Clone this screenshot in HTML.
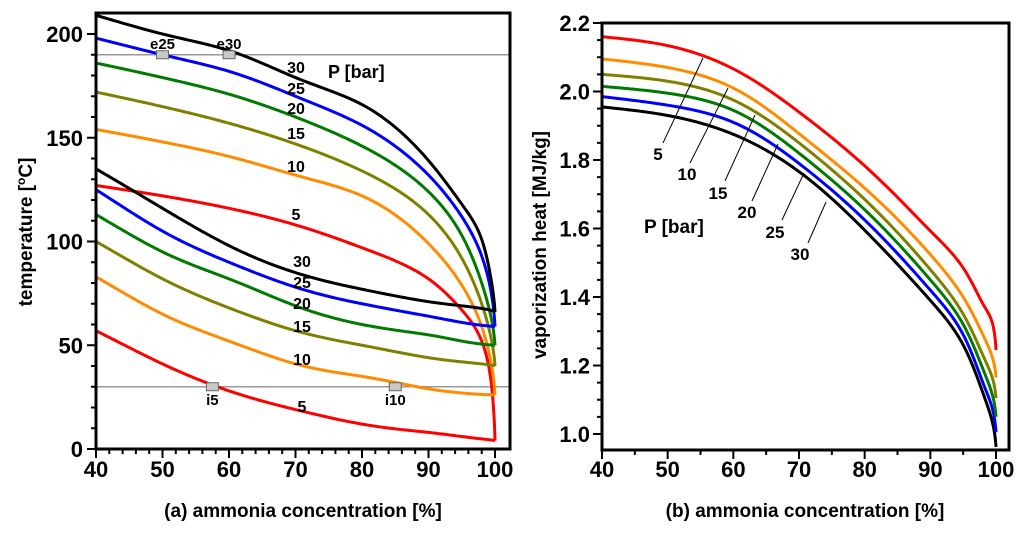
<!DOCTYPE html>
<html><head><meta charset="utf-8">
<style>
html,body{margin:0;padding:0;background:#fff;}
svg{display:block;font-family:"Liberation Sans",Arial,sans-serif;font-weight:bold;}
</style></head>
<body>
<svg id="chart" width="1024" height="533" viewBox="0 0 1024 533" xmlns="http://www.w3.org/2000/svg"></svg>
<script>
// ---- Data: panel (a) temperature vs ammonia concentration ----
const pressures = [30, 25, 20, 15, 10, 5];
const colors = ["#000000", "#0000ff", "#007a00", "#808000", "#ff8c00", "#ff0000"];
const dewX = [40, 50, 60, 70, 80, 90, 95, 98, 99.5, 100];
const dew30 = [209, 200, 192, 179, 166, 139, 118, 101, 80, 66];
const dew25 = [198, 190, 182, 170, 156, 132, 112, 93, 74, 59];
const dew20 = [186, 179, 171, 160, 146, 124, 103, 80, 62, 50];
const dew15 = [172, 165, 157, 147, 134, 113, 92, 70, 52, 40];
const dew10 = [154, 148, 141, 132, 122, 99, 79, 59, 40, 26];
const dew5 = [127, 122, 116, 108, 97, 82, 67, 52, 30, 4];
const bubX = [40, 50, 60, 70, 80, 90, 95, 100];
const bub30 = [135, 116, 98, 85, 77, 71, 69, 66];
const bub25 = [125, 105, 90, 78, 70, 64, 61, 59];
const bub20 = [113, 95, 82, 69, 60, 55, 52, 50];
const bub15 = [100, 82, 68, 57, 50, 44, 42, 40];
const bub10 = [83, 65, 52, 41, 35, 29, 27, 26];
const bub5 = [57, 41, 28, 19, 12, 8, 6, 4];
const aXTicks = [40, 50, 60, 70, 80, 90, 100];
const aYTicks = [0, 50, 100, 150, 200];
const refTemps = [190, 30];
const pointNames = ["e25", "e30", "i5", "i10"];
const pointX = [50, 60, 57.5, 85];
const pointT = [190, 190, 30, 30];
// ---- Data: panel (b) vaporization heat ----
const hX = [40, 50, 60, 70, 80, 90, 95, 98, 99.5, 100];
const heat5 = [2.16, 2.134, 2.066, 1.94, 1.783, 1.593, 1.485, 1.38, 1.32, 1.245];
const heat10 = [2.095, 2.07, 2.01, 1.877, 1.718, 1.524, 1.40, 1.29, 1.22, 1.165];
const heat15 = [2.05, 2.03, 1.975, 1.85, 1.685, 1.48, 1.35, 1.23, 1.16, 1.105];
const heat20 = [2.015, 1.995, 1.945, 1.82, 1.655, 1.45, 1.32, 1.19, 1.11, 1.05];
const heat25 = [1.985, 1.96, 1.91, 1.79, 1.625, 1.42, 1.29, 1.15, 1.07, 1.005];
const heat30 = [1.955, 1.93, 1.875, 1.766, 1.595, 1.39, 1.26, 1.12, 1.03, 0.962];
const bXTicks = [40, 50, 60, 70, 80, 90, 100];
const bYTicks = [1.0, 1.2, 1.4, 1.6, 1.8, 2.0, 2.2];

const NS = "http://www.w3.org/2000/svg";
const svg = document.getElementById("chart");
function mk(tag, attrs, parent) {
  const e = document.createElementNS(NS, tag);
  for (const k in attrs) e.setAttribute(k, attrs[k]);
  (parent || svg).appendChild(e);
  return e;
}
const ax = v => 96 + (v - 40) * 6.65;
const ay = t => 449 - t * 2.075;
const bx = v => 602 + (v - 40) * 6.567;
const by = v => 23 + (2.2 - v) * 342.5;

// natural cubic spline in u = sqrt(100.05 - x), mapped back to x
const toU = x => Math.sqrt(100.05 - x);
function smoothPath(xs, ys, fx, fy) {
  const U = xs.map(toU).reverse(), Y = ys.slice().reverse();
  const n = U.length, h = [], al = [0], l = [1], mu = [0], z = [0], c = new Array(n).fill(0), b = [], d = [];
  for (let i = 0; i < n - 1; i++) h.push(U[i + 1] - U[i]);
  for (let i = 1; i < n - 1; i++) al.push(3 / h[i] * (Y[i + 1] - Y[i]) - 3 / h[i - 1] * (Y[i] - Y[i - 1]));
  for (let i = 1; i < n - 1; i++) {
    l.push(2 * (U[i + 1] - U[i - 1]) - h[i - 1] * mu[i - 1]);
    mu.push(h[i] / l[i]);
    z.push((al[i] - h[i - 1] * z[i - 1]) / l[i]);
  }
  for (let j = n - 2; j >= 0; j--) {
    c[j] = (j === 0 ? 0 : z[j] - mu[j] * c[j + 1]);
    b[j] = (Y[j + 1] - Y[j]) / h[j] - h[j] * (c[j + 1] + 2 * c[j]) / 3;
    d[j] = (c[j + 1] - c[j]) / (3 * h[j]);
  }
  let p = "";
  for (let j = 0; j < n - 1; j++) {
    for (let k = (j === 0 ? 0 : 1); k <= 30; k++) {
      const uu = U[j] + h[j] * k / 30, du = uu - U[j];
      const y = Y[j] + b[j] * du + c[j] * du * du + d[j] * du * du * du;
      const x = 100.05 - uu * uu;
      p += (p ? "L" : "M") + fx(x).toFixed(2) + "," + fy(y).toFixed(2);
    }
  }
  return p;
}
function text(x, y, s, size, anchor, parent) {
  const t = mk("text", {x: x, y: y, "font-size": size, "text-anchor": anchor || "middle", fill: "#000"}, parent);
  t.textContent = s;
  return t;
}

// ================= Panel (a) =================
const ga = mk("g", {});


refTemps.forEach(T => {
  const l = mk("line", {x1: ax(40), x2: 510, y1: ay(T), y2: ay(T), stroke: "#999", "stroke-width": 1.5}, ga);
  
  
});
const dews = [dew30, dew25, dew20, dew15, dew10, dew5];
const bubs = [bub30, bub25, bub20, bub15, bub10, bub5];
for (let i = dews.length - 1; i >= 0; i--) {
  const p1 = mk("path", {d: smoothPath(dewX, dews[i], ax, ay), fill: "none", stroke: colors[i], "stroke-width": 3}, ga);
  
  
  const p2 = mk("path", {d: smoothPath(bubX, bubs[i], ax, ay), fill: "none", stroke: colors[i], "stroke-width": 3}, ga);
  
  
}
pointNames.forEach((nm, i) => {
  const r = mk("rect", {x: ax(pointX[i]) - 6, y: ay(pointT[i]) - 4, width: 12, height: 8, fill: "#c8c8c8", stroke: "#666", "stroke-width": 1}, ga);
  
  
  const t = text(ax(pointX[i]), pointT[i] > 100 ? ay(pointT[i]) - 6 : ay(pointT[i]) + 18, nm, 15, "middle", ga);
  
  
});
const aUpLabelY = [67, 88, 108, 133, 166, 214];
const aLoLabelY = [261, 282, 303, 326, 359, 406];
pressures.forEach((p, i) => {
  const t1 = text(296, aUpLabelY[i] + 6, String(p), 16, "middle", ga);
  
  
  const t2 = text(302, aLoLabelY[i] + 6, String(p), 16, "middle", ga);
  
  
});
const pa = text(328, 78, "P [bar]", 18, "start", ga);


const fa = mk("rect", {x: 96, y: 13, width: 414, height: 436, fill: "none", stroke: "#000", "stroke-width": 3}, ga);


for (let v = 40; v <= 100; v += 2) {
  const major = v % 10 === 0;
  mk("line", {x1: ax(v), x2: ax(v), y1: 449, y2: major ? 458 : 454, stroke: "#000", "stroke-width": 2}, ga);
}
for (let v = 0; v <= 200; v += 10) {
  const major = v % 50 === 0;
  mk("line", {x1: 96, x2: major ? 87 : 91, y1: ay(v), y2: ay(v), stroke: "#000", "stroke-width": 2}, ga);
}
aXTicks.forEach(v => {
  const t = text(ax(v), 477, String(v), 22, "middle", ga);
  
  
});
aYTicks.forEach(v => {
  const t = text(83, ay(v) + 8, String(v), 22, "end", ga);
  
  
});
const xta = text(303, 517, "(a) ammonia concentration [%]", 19, "middle", ga);


const yta = mk("text", {x: 0, y: 0, "font-size": 19, "text-anchor": "middle", transform: "translate(32,232) rotate(-90)"}, ga);
yta.innerHTML = 'temperature [<tspan dy="-7" font-size="12">o</tspan><tspan dy="7">C]</tspan>';



// ================= Panel (b) =================
const gb = mk("g", {});


const heats = [heat30, heat25, heat20, heat15, heat10, heat5];
for (let i = 0; i < heats.length; i++) {
  const p = mk("path", {d: smoothPath(hX, heats[i], bx, by), fill: "none", stroke: colors[i], "stroke-width": 3}, gb);
  
  
}
const bLabX = [658, 687, 718, 747, 775, 800];
const bLabY = [153, 173, 192, 211, 231, 253];
const bLine = [[663,143,703,58],[690,163,728,88],[725,181,755,115],[752,201,778,144],[782,220,804,173],[808,243,826,202]];
const bP = [5, 10, 15, 20, 25, 30];
bP.forEach((p, i) => {
  const l = mk("line", {x1: bLine[i][0], y1: bLine[i][1], x2: bLine[i][2], y2: bLine[i][3], stroke: "#000", "stroke-width": 1}, gb);
  
  
  const t = text(bLabX[i], bLabY[i] + 7, String(p), 17, "middle", gb);
  
  
});
const pb = text(644, 233, "P [bar]", 19, "start", gb);


const fb = mk("rect", {x: 602, y: 23, width: 407, height: 427, fill: "none", stroke: "#000", "stroke-width": 3}, gb);


for (let v = 40; v <= 100; v += 5) {
  const major = v % 10 === 0;
  mk("line", {x1: bx(v), x2: bx(v), y1: 450, y2: major ? 459 : 455, stroke: "#000", "stroke-width": 2}, gb);
}
for (let k = 0; k <= 24; k++) {
  const v = 1.0 + k * 0.05;
  const major = k % 4 === 0;
  mk("line", {x1: 602, x2: major ? 593 : 597, y1: by(v), y2: by(v), stroke: "#000", "stroke-width": 2}, gb);
}
bXTicks.forEach(v => {
  const t = text(bx(v), 477, String(v), 22, "middle", gb);
  
  
});
bYTicks.forEach(v => {
  const t = text(590, by(v) + 8, v.toFixed(1), 22, "end", gb);
  
  
});
const xtb = text(805, 517, "(b) ammonia concentration [%]", 19, "middle", gb);


const ytb = mk("text", {x: 0, y: 0, "font-size": 19, "text-anchor": "middle", transform: "translate(546,245) rotate(-90)"}, gb);
ytb.textContent = "vaporization heat [MJ/kg]";


</script>
</body></html>
